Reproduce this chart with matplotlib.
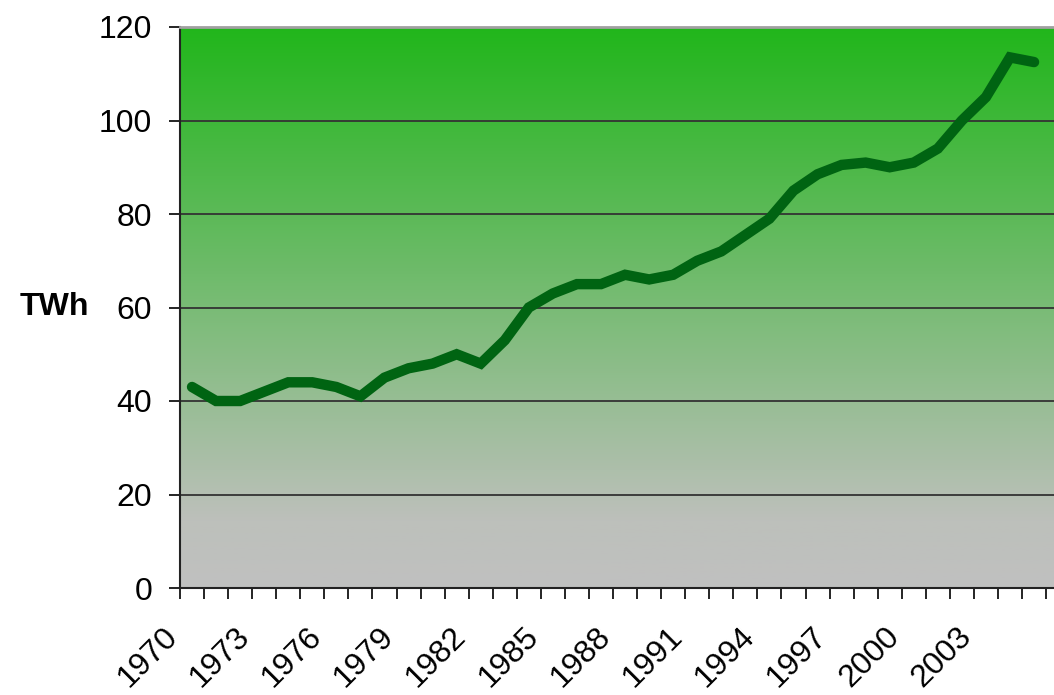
import numpy as np
import matplotlib
matplotlib.use('Agg')
import matplotlib.pyplot as plt
import matplotlib.transforms as mtransforms
from matplotlib.colors import LinearSegmentedColormap

# Data: yearly production (TWh), 1970-2005
years = list(range(1970, 2006))
twh = [43, 40, 40, 42, 44, 44, 43, 41, 45, 47,
       48, 50, 48, 53, 60, 63, 65, 65, 67, 66,
       67, 70, 72, 75.5, 79, 85, 88.5, 90.5, 91, 90,
       91, 94, 100, 105, 113.5, 112.5]
label_years = list(range(1970, 2004, 3))
y_ticks = [0, 20, 40, 60, 80, 100, 120]

plt.rcParams['font.family'] = ['Liberation Sans', 'DejaVu Sans']

fig = plt.figure(figsize=(10.54, 6.95), dpi=100)
ax = fig.add_axes([180 / 1054, 1 - 588 / 695, 1 - 180 / 1054 + 0.002, (588 - 27) / 695])

n = len(years)
x = np.arange(n)
xmax = (1054 - 180) / 24 - 0.5

# background gradient green (top) -> gray (bottom)
cmap = LinearSegmentedColormap.from_list(
    'bg', [(0.0, '#c0c0c0'), (0.12, '#bdc0bb'), (1.0, '#21b61b')])
grad = np.linspace(0, 1, 256).reshape(-1, 1)
ax.imshow(grad, cmap=cmap, origin='lower', aspect='auto',
          extent=[-0.5, xmax, 0, 120], zorder=0)

for v in y_ticks[1:-1]:
    ax.axhline(v, color='#333333', lw=1.3, zorder=1)

ax.plot(x, twh, color='#006412', lw=7.5, solid_joinstyle='miter',
        solid_capstyle='round', zorder=3)

ax.set_xlim(-0.5, xmax)
ax.set_ylim(0, 120)
ax.set_yticks(y_ticks)
ax.set_yticklabels([str(v) for v in y_ticks], fontsize=23)

# ticks at category boundaries
ax.set_xticks(np.arange(-0.5, xmax, 1.0))
ax.set_xticklabels([])
ax.tick_params(axis='x', which='major', length=8, width=1.2, direction='out')
ax.tick_params(axis='y', length=8, width=1.2, pad=12)

# rotated year labels, right end a bit left of the category centre
base = ax.get_xaxis_transform()
shift = mtransforms.ScaledTranslation(-19 / 100, -44 / 100, fig.dpi_scale_trans)
for yr in label_years:
    ax.text(years.index(yr), 0, str(yr), transform=base + shift,
            rotation=45, rotation_mode='anchor', ha='right', va='center',
            fontsize=23, clip_on=False)

ax.spines['left'].set_color('#222222')
ax.spines['left'].set_linewidth(1.5)
ax.spines['bottom'].set_color('#222222')
ax.spines['bottom'].set_linewidth(1.5)
ax.spines['top'].set_color('#a0a0a0')
ax.spines['top'].set_linewidth(2)
ax.spines['right'].set_visible(False)

fig.text(20 / 1054, 1 - 307 / 695, 'TWh', fontsize=23, fontweight='bold',
         ha='left', va='center')

fig.savefig('out.png', dpi=100)
